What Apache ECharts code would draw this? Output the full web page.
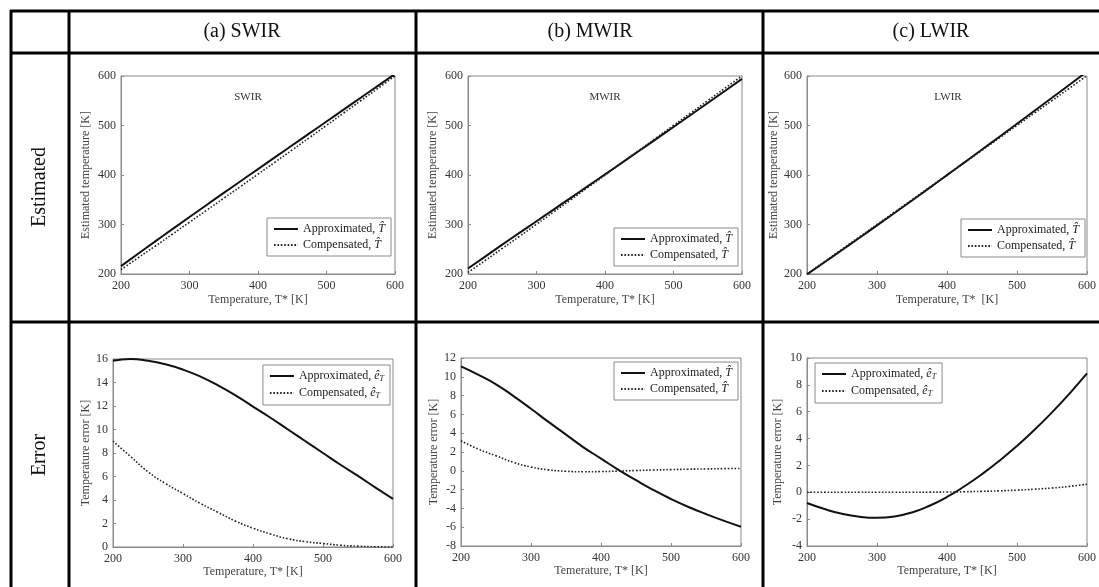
<!DOCTYPE html>
<html>
<head>
<meta charset="utf-8">
<script src="https://cdn.jsdelivr.net/npm/echarts@6/dist/echarts.min.js"></script>
<style>
    html, body { margin: 0; padding: 0; background: #fff; }
    #main { width: 1099px; height: 587px; }
</style>
</head>
<body>
<div id="main"></div>
<script>
// true temperature T* [K]
var tempK = [200, 225, 250, 275, 300, 325, 350, 375, 400, 425, 450, 475, 500, 525, 550, 575, 600];

// estimated temperature [K]
var swirEstApprox = [215.9, 241.0, 265.9, 290.6, 315.1, 339.5, 363.8, 387.9, 412.0, 436.0, 460.0, 484.0, 508.0, 532.0, 556.1, 580.1, 604.1];
var swirEstComp = [209.0, 232.7, 256.4, 280.4, 304.6, 328.7, 353.0, 377.2, 401.6, 426.1, 450.7, 475.5, 500.3, 525.2, 550.1, 575.0, 600.0];
var mwirEstApprox = [211.1, 235.2, 259.2, 283.0, 306.6, 330.2, 353.9, 377.5, 401.3, 425.1, 449.0, 473.0, 497.0, 521.2, 545.4, 569.7, 594.1];
var mwirEstComp = [203.2, 227.3, 251.6, 275.9, 300.4, 325.1, 350.0, 374.9, 399.9, 425.0, 450.0, 475.1, 500.1, 525.2, 550.2, 575.2, 600.3];
var lwirEstApprox = [199.2, 223.8, 248.4, 273.2, 298.1, 323.2, 348.5, 374.0, 399.7, 425.5, 451.4, 477.4, 503.5, 529.7, 556.0, 582.4, 608.9];
var lwirEstComp = [200.0, 225.0, 250.0, 275.0, 300.0, 325.0, 350.0, 375.0, 400.0, 425.0, 450.1, 475.1, 500.2, 525.2, 550.3, 575.4, 600.6];

// temperature error [K]
var swirErrApprox = [15.85, 16.0, 15.85, 15.55, 15.1, 14.5, 13.75, 12.9, 11.95, 11.0, 10.0, 9.0, 8.0, 7.0, 6.05, 5.05, 4.1];
var swirErrComp = [9.0, 7.7, 6.4, 5.4, 4.55, 3.7, 2.95, 2.2, 1.6, 1.1, 0.7, 0.45, 0.3, 0.15, 0.07, 0.02, 0.0];
var mwirErrApprox = [11.1, 10.2, 9.2, 7.95, 6.6, 5.2, 3.85, 2.5, 1.3, 0.1, -1.0, -2.05, -3.0, -3.85, -4.6, -5.3, -5.95];
var mwirErrComp = [3.2, 2.3, 1.6, 0.9, 0.4, 0.1, -0.05, -0.1, -0.08, -0.03, 0.03, 0.08, 0.13, 0.17, 0.2, 0.23, 0.25];
var lwirErrApprox = [-0.8, -1.25, -1.6, -1.82, -1.9, -1.8, -1.5, -1.0, -0.35, 0.45, 1.35, 2.35, 3.45, 4.65, 5.95, 7.35, 8.85];
var lwirErrComp = [0, 0, 0, 0, 0, 0, 0, 0.01, 0.02, 0.04, 0.07, 0.11, 0.16, 0.23, 0.32, 0.44, 0.6];

// table text
var columnTitles = ['(a) SWIR', '(b) MWIR', '(c) LWIR'];
var rowTitles = ['Estimated', 'Error'];
var bandNames = ['SWIR', 'MWIR', 'LWIR'];

var serif = '"Liberation Serif", "DejaVu Serif", serif';
var axisGray = '#8a8a8a';

var chart = echarts.init(document.getElementById('main'));

function pairs(ys) {
    var out = [];
    for (var i = 0; i < tempK.length; i++) {
        out.push([tempK[i], ys[i]]);
    }
    return out;
}

var legendRich = {
    i: { fontFamily: serif, fontSize: 12, fontStyle: 'italic', color: '#222' },
    s: { fontFamily: serif, fontSize: 8, fontStyle: 'italic', color: '#222', verticalAlign: 'bottom', padding: [6, 0, 0, 0] }
};

var option = {
    animation: false,
    backgroundColor: '#fff',
    grid: [],
    xAxis: [],
    yAxis: [],
    legend: [],
    series: [],
    graphic: []
};

// one plot of the table
function addPanel(p) {
    var idx = option.grid.length;
    option.grid.push({
        left: p.left, top: p.top, width: p.width, height: p.height,
        show: true, borderColor: axisGray, borderWidth: 1, backgroundColor: '#fff'
    });
    option.xAxis.push({
        gridIndex: idx, type: 'value', min: 200, max: 600, interval: 100,
        name: p.xName, nameLocation: 'middle', nameGap: p.xGap,
        nameTextStyle: { fontFamily: serif, fontSize: 12, color: '#444' },
        axisLine: { onZero: false, lineStyle: { color: axisGray } },
        axisTick: { inside: true, length: 3, lineStyle: { color: axisGray } },
        axisLabel: { fontFamily: serif, fontSize: 12, color: '#333', margin: 6 },
        splitLine: { show: false }
    });
    option.yAxis.push({
        gridIndex: idx, type: 'value', min: p.yMin, max: p.yMax, interval: p.yStep,
        name: p.yName, nameLocation: 'middle', nameGap: p.yGap,
        nameTextStyle: { fontFamily: serif, fontSize: 12, color: '#444' },
        axisLine: { onZero: false, lineStyle: { color: axisGray } },
        axisTick: { inside: true, length: 3, lineStyle: { color: axisGray } },
        axisLabel: { fontFamily: serif, fontSize: 12, color: '#333', margin: 5 },
        splitLine: { show: false }
    });
    var nameA = p.approxName, nameC = p.compName;
    option.series.push({
        name: nameA, type: 'line', xAxisIndex: idx, yAxisIndex: idx,
        data: pairs(p.approx), smooth: true, symbol: 'none', clip: true,
        lineStyle: { color: '#111', width: 2 }, itemStyle: { color: '#111' }
    });
    option.series.push({
        name: nameC, type: 'line', xAxisIndex: idx, yAxisIndex: idx,
        data: pairs(p.comp), smooth: true, symbol: 'none', clip: true,
        lineStyle: { color: '#222', width: 1.6, type: [1.6, 1.8] }, itemStyle: { color: '#222' }
    });
    var lg = {
        data: [nameA, nameC], orient: 'vertical', top: p.legTop,
        itemWidth: 24, itemHeight: 10, itemGap: 4,
        padding: [5, 6, 5, 6], borderColor: axisGray, borderWidth: 1, backgroundColor: '#fff',
        itemStyle: { opacity: 0 },
        textStyle: { fontFamily: serif, fontSize: 12, color: '#222', rich: legendRich },
        formatter: function (name) {
            var parts = name.split('|');
            return parts[0] + (parts[1] === 'T' ? '{i|T\u0302}' : '{i|\u00ea}{s|T}');
        }
    };
    if (p.legLeft !== undefined) {
        lg.left = p.legLeft;
    } else {
        lg.right = p.legRight;
    }
    option.legend.push(lg);
    if (p.band) {
        option.graphic.push({
            type: 'text', x: p.bandX, y: 97,
            style: { text: p.band, font: '11px ' + serif, fill: '#333', textAlign: 'center', textVerticalAlign: 'middle' }
        });
    }
}

var estName = 'Estimated temperature [K]';
var errName = 'Temperature error [K]';

addPanel({ left: 121, top: 76, width: 274, height: 198, yMin: 200, yMax: 600, yStep: 100,
    xName: 'Temperature, T* [K]', xGap: 20, yName: estName, yGap: 29,
    approx: swirEstApprox, comp: swirEstComp, approxName: 'Approximated, |T', compName: 'Compensated, |T',
    legRight: 708, legTop: 218, band: bandNames[0], bandX: 248 });
addPanel({ left: 468, top: 76, width: 274, height: 198, yMin: 200, yMax: 600, yStep: 100,
    xName: 'Temperature, T* [K]', xGap: 20, yName: estName, yGap: 29,
    approx: mwirEstApprox, comp: mwirEstComp, approxName: 'Approximated, |T', compName: 'Compensated, |T',
    legRight: 361, legTop: 228, band: bandNames[1], bandX: 605 });
addPanel({ left: 807, top: 76, width: 281, height: 198, yMin: 200, yMax: 600, yStep: 100,
    xName: 'Temperature, T*  [K]', xGap: 20, yName: estName, yGap: 23,
    approx: lwirEstApprox, comp: lwirEstComp, approxName: 'Approximated, |T', compName: 'Compensated, |T',
    legRight: 14, legTop: 219, band: bandNames[2], bandX: 948 });
addPanel({ left: 113, top: 359, width: 280, height: 188, yMin: 0, yMax: 16, yStep: 2,
    xName: 'Temperature, T* [K]', xGap: 17, yName: errName, yGap: 20,
    approx: swirErrApprox, comp: swirErrComp, approxName: 'Approximated, |e', compName: 'Compensated, |e',
    legRight: 709, legTop: 365 });
addPanel({ left: 461, top: 358, width: 280, height: 188, yMin: -8, yMax: 12, yStep: 2,
    xName: 'Temerature, T* [K]', xGap: 17, yName: errName, yGap: 21,
    approx: mwirErrApprox, comp: mwirErrComp, approxName: 'Approximated, |T', compName: 'Compensated, |T',
    legRight: 361, legTop: 362 });
addPanel({ left: 807, top: 358, width: 280, height: 188, yMin: -4, yMax: 10, yStep: 2,
    xName: 'Temperature, T* [K]', xGap: 17, yName: errName, yGap: 23,
    approx: lwirErrApprox, comp: lwirErrComp, approxName: 'Approximated, |e', compName: 'Compensated, |e',
    legLeft: 815, legTop: 363 });

// table frame
var lineW = 3;
var hLines = [11, 53, 322];
var vLines = [11, 69, 416, 763];
hLines.forEach(function (y) {
    option.graphic.push({ type: 'line', z: 100, shape: { x1: 10, y1: y, x2: 1099, y2: y }, style: { stroke: '#000', lineWidth: lineW } });
});
vLines.forEach(function (x) {
    option.graphic.push({ type: 'line', z: 100, shape: { x1: x, y1: 10, x2: x, y2: 587 }, style: { stroke: '#000', lineWidth: lineW } });
});

// column headers
var colCenters = [242, 590, 931];
columnTitles.forEach(function (t, i) {
    option.graphic.push({
        type: 'text', x: colCenters[i], y: 32,
        style: { text: t, font: '20px ' + serif, fill: '#111', textAlign: 'center', textVerticalAlign: 'middle' }
    });
});
// row headers, rotated
var rowCenters = [187, 455];
rowTitles.forEach(function (t, i) {
    option.graphic.push({
        type: 'text', x: 40, y: rowCenters[i], rotation: Math.PI / 2,
        style: { text: t, font: '20px ' + serif, fill: '#111', textAlign: 'center', textVerticalAlign: 'middle' }
    });
});

chart.setOption(option);
</script>
</body>
</html>
